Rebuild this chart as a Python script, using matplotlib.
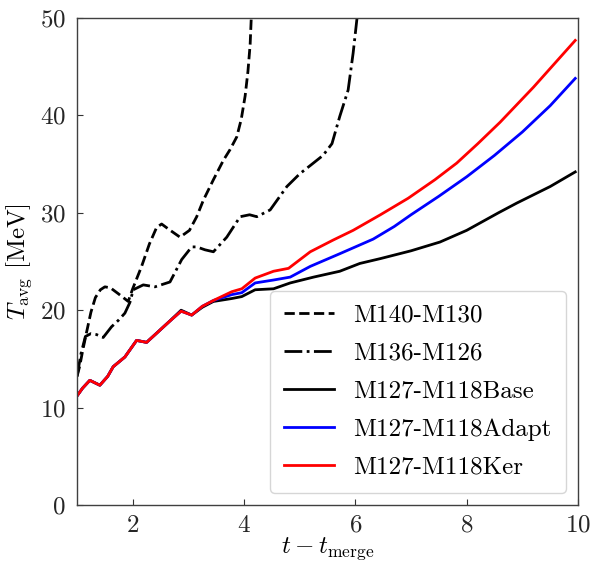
import matplotlib
matplotlib.use("Agg")
import matplotlib.pyplot as plt

plt.rcParams.update({
    "font.family": "serif",
    "font.serif": ["cmr10", "DejaVu Serif"],
    "mathtext.fontset": "cm",
    "axes.formatter.use_mathtext": True,
    "font.size": 18,
})

# M140-M130 (prompt collapse, dashed)
t_140 = [1.0, 1.05, 1.1, 1.17, 1.25, 1.33, 1.42, 1.5, 1.6, 1.74, 1.92, 2.0, 2.16, 2.3, 2.43,
         2.52, 2.65, 2.85, 3.02, 3.15, 3.27, 3.45, 3.63, 3.75, 3.87, 3.95, 4.02, 4.07, 4.11,
         4.13, 4.16]
T_140 = [13.2, 14.3, 15.8, 17.7, 19.8, 21.3, 22.1, 22.4, 22.3, 21.7, 20.9, 22.2, 24.5, 26.8,
         28.5, 28.85, 28.3, 27.5, 28.2, 29.6, 31.3, 33.4, 35.4, 36.5, 37.8, 39.6, 42.0, 44.5,
         47.3, 50.0, 53.0]

# M136-M126 (delayed collapse, dash-dot)
t_136 = [1.0, 1.07, 1.15, 1.25, 1.35, 1.47, 1.62, 1.75, 1.86, 1.95, 2.01, 2.19, 2.4, 2.67,
         2.88, 3.06, 3.15, 3.3, 3.45, 3.69, 3.93, 4.1, 4.23, 4.47, 4.77, 5.0, 5.2, 5.42,
         5.58, 5.72, 5.87, 5.96, 6.03, 6.07]
T_136 = [13.2, 15.5, 17.3, 17.6, 17.5, 17.2, 18.3, 19.0, 19.7, 20.8, 22.1, 22.6, 22.4, 22.9,
         25.2, 26.5, 26.5, 26.2, 26.0, 27.5, 29.6, 29.8, 29.6, 30.3, 32.7, 34.0, 34.9, 35.9,
         37.1, 39.9, 42.6, 46.4, 50.0, 53.0]

# M127-M118, three remnant runs
t_base = [1.0, 1.1, 1.23, 1.41, 1.55, 1.65, 1.86, 2.07, 2.25, 2.46, 2.65, 2.87, 3.06, 3.25,
          3.45, 3.78, 3.96, 4.2, 4.53, 4.83, 5.25, 5.72, 6.08, 6.45, 7.0, 7.52, 8.0, 8.57,
          8.9, 9.5, 9.95]
T_base = [11.2, 12.0, 12.8, 12.3, 13.2, 14.2, 15.2, 16.9, 16.7, 17.8, 18.8, 20.0, 19.5, 20.3,
          20.9, 21.2, 21.4, 22.1, 22.2, 22.8, 23.4, 24.0, 24.8, 25.3, 26.1, 27.0, 28.2, 30.0,
          31.0, 32.7, 34.2]

t_adapt = [1.0, 1.1, 1.23, 1.41, 1.55, 1.65, 1.86, 2.07, 2.25, 2.46, 2.65, 2.87, 3.06, 3.25,
           3.45, 3.78, 3.96, 4.2, 4.53, 4.83, 5.19, 5.72, 6.0, 6.32, 6.7, 7.0, 7.5, 8.0,
           8.5, 9.0, 9.5, 9.95]
T_adapt = [11.2, 12.0, 12.8, 12.3, 13.2, 14.2, 15.2, 16.9, 16.7, 17.8, 18.8, 19.9, 19.5, 20.4,
           21.0, 21.6, 21.8, 22.8, 23.1, 23.4, 24.5, 25.8, 26.5, 27.3, 28.6, 29.8, 31.7, 33.7,
           35.9, 38.3, 41.0, 43.8]

t_ker = [1.0, 1.1, 1.23, 1.41, 1.55, 1.65, 1.86, 2.07, 2.25, 2.46, 2.65, 2.87, 3.06, 3.25,
         3.45, 3.78, 3.96, 4.2, 4.53, 4.8, 5.19, 5.6, 5.96, 6.45, 6.95, 7.43, 7.82, 8.2, 8.6,
         9.2, 9.95]
T_ker = [11.2, 12.0, 12.8, 12.3, 13.2, 14.2, 15.2, 16.9, 16.7, 17.8, 18.8, 19.9, 19.5, 20.4,
         21.0, 21.9, 22.2, 23.3, 24.0, 24.3, 26.0, 27.2, 28.2, 29.8, 31.5, 33.4, 35.1, 37.1,
         39.3, 42.9, 47.7]

fig = plt.figure(figsize=(5.98, 5.63), dpi=100)
ax = fig.add_axes([0.1288, 0.103, 0.8378, 0.865])

lw = 2.0
ax.plot(t_140, T_140, "--", color="k", lw=lw, label="M140-M130")
ax.plot(t_136, T_136, "-.", color="k", lw=lw, label="M136-M126")
ax.plot(t_base, T_base, "-", color="k", lw=lw, label="M127-M118Base")
ax.plot(t_adapt, T_adapt, "-", color="b", lw=lw, label="M127-M118Adapt")
ax.plot(t_ker, T_ker, "-", color="r", lw=lw, label="M127-M118Ker")

ax.set_xlim(1, 10)
ax.set_ylim(0, 50)
ax.set_xticks([2, 4, 6, 8, 10])
ax.set_yticks([0, 10, 20, 30, 40, 50])
ax.tick_params(direction="in", length=4, width=0.8, colors="0.2", labelcolor="0.15",
               top=False, right=False, pad=8)
ax.tick_params(axis="x", pad=7)
for s in ax.spines.values():
    s.set_color("0.25")
    s.set_linewidth(1.0)

ax.set_xlabel(r"$t - t_{\rm merge}$", labelpad=-1)
ax.set_ylabel(r"$T_{\rm avg}$ [MeV]", labelpad=4)

ax.legend(loc="lower right", fontsize=18, handlelength=2.0,
          labelspacing=0.62, borderpad=0.55)

fig.savefig("out.png", dpi=100)
